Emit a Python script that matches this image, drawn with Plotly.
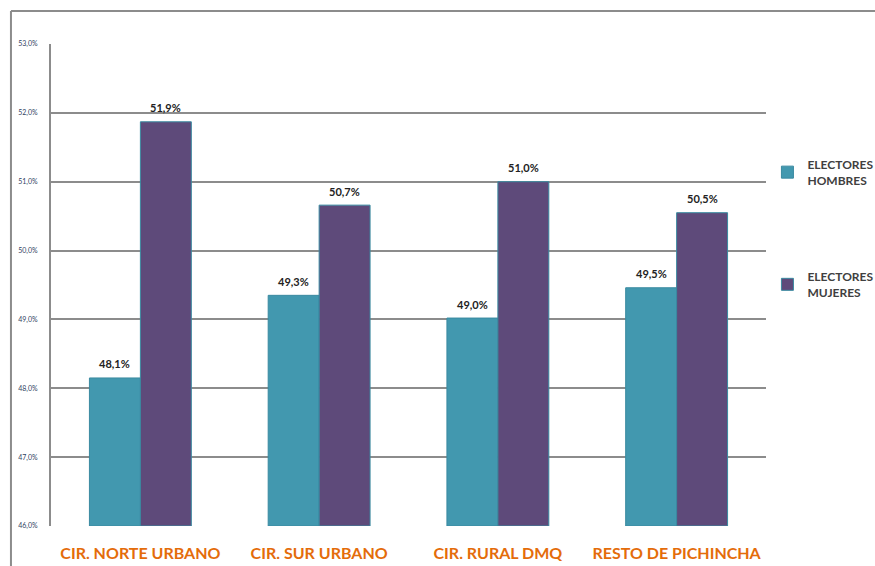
import plotly.graph_objects as go

categories = ["CIR. NORTE URBANO", "CIR. SUR URBANO", "CIR. RURAL DMQ", "RESTO DE PICHINCHA"]
hombres = [48.15, 49.35, 49.02, 49.46]
mujeres = [51.87, 50.66, 51.0, 50.55]
hombres_labels = ["48,1%", "49,3%", "49,0%", "49,5%"]
mujeres_labels = ["51,9%", "50,7%", "51,0%", "50,5%"]
tick_vals = [46, 47, 48, 49, 50, 51, 52, 53]
tick_text = ["46,0%", "47,0%", "48,0%", "49,0%", "50,0%", "51,0%", "52,0%", "53,0%"]

BASE = 46
TEAL = "#4298AF"
PURPLE = "#5E4A7A"
FONT = "Lato"

fig = go.Figure()
fig.add_trace(go.Bar(
    x=categories, y=[v - BASE for v in hombres], base=BASE, name="ELECTORES<br>HOMBRES",
    marker=dict(color=TEAL, line=dict(color="#3A8AA0", width=1)),
    legendgroup="h",
))
fig.add_trace(go.Bar(
    x=categories, y=[v - BASE for v in mujeres], base=BASE, name="ELECTORES<br>MUJERES",
    marker=dict(color=PURPLE, line=dict(color="#3A8AA0", width=1)),
    legendgroup="m",
))

annotations = []
for cat, v, lab in zip(categories, hombres, hombres_labels):
    annotations.append(dict(x=cat, y=v, text=lab, showarrow=False, xshift=-25.5, yshift=14,
                            yanchor="middle", font=dict(family=FONT, size=11, color="#222222", weight="bold")))
for cat, v, lab in zip(categories, mujeres, mujeres_labels):
    annotations.append(dict(x=cat, y=v, text=lab, showarrow=False, xshift=25.5, yshift=14,
                            yanchor="middle", font=dict(family=FONT, size=11, color="#222222", weight="bold")))

fig.update_layout(
    width=875, height=566,
    margin=dict(l=51, r=109, t=44, b=40, autoexpand=False),
    paper_bgcolor="white", plot_bgcolor="white",
    barmode="group", bargap=0.43, bargroupgap=0,
    font=dict(family=FONT),
    showlegend=True,
    annotations=annotations,
    legend=dict(
        x=1.002, y=0.78, xanchor="left", yanchor="top",
        font=dict(family=FONT, size=12, color="#404040", weight="bold"),
        tracegroupgap=78, itemwidth=30,
        bgcolor="rgba(0,0,0,0)",
    ),
    xaxis=dict(
        showline=False, showgrid=False, ticks="",
        tickfont=dict(family=FONT, size=16, color="#E46C0A", weight="bold"),
        ticklabelstandoff=16,
    ),
    yaxis=dict(
        range=[46, 53], tickvals=tick_vals, ticktext=tick_text,
        showgrid=True, gridcolor="#8C8C8C", gridwidth=2,
        showline=True, linecolor="#8C8C8C", linewidth=2,
        zeroline=False, ticks="",
        tickfont=dict(family=FONT, size=7, color="#2F3F5F"),
        ticklabelstandoff=10,
    ),
    shapes=[
        dict(type="line", xref="paper", yref="paper", x0=-0.056, x1=1.2, y0=1.0685, y1=1.0685,
             line=dict(color="#8C8C8C", width=2)),
        dict(type="line", xref="paper", yref="paper", x0=-0.056, x1=-0.056, y0=1.0685, y1=-0.1,
             line=dict(color="#8C8C8C", width=2)),
    ],
)

fig.write_html("out.html")
